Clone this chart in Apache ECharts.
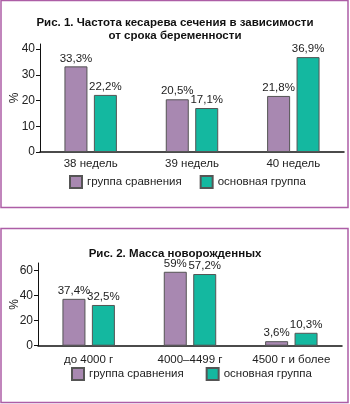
<!DOCTYPE html>
<html>
<head>
<meta charset="utf-8">
<script src="https://cdn.jsdelivr.net/npm/echarts@6/dist/echarts.min.js"></script>
<style>
html,body{margin:0;padding:0;background:#fff;}
#chart{width:350px;height:404px;}
</style>
</head>
<body>
<div id="chart"></div>
<script>
// Chart 1 data
var categories1 = ['38 недель', '39 недель', '40 недель'];
var comparison1 = [33.3, 20.5, 21.8];
var main1 = [22.2, 17.1, 36.9];
var ticks1 = [0, 10, 20, 30, 40];
// Chart 2 data
var categories2 = ['до 4000 г', '4000–4499 г', '4500 г и более'];
var comparison2 = [37.4, 59, 3.6];
var main2 = [32.5, 57.2, 10.3];
var ticks2 = [0, 20, 40, 60];

var seriesNames = ['группа сравнения', 'основная группа'];
var title1 = 'Рис. 1. Частота кесарева сечения в зависимости\nот срока беременности';
var title2 = 'Рис. 2. Масса новорожденных';

var PURPLE = '#a888b1';
var GREEN = '#14b8a0';
var FONT = 'Liberation Sans, Arial, sans-serif';
var TXT = '#222';

function fmt(p) { return String(p.value).replace('.', ',') + '%'; }

function barSeries(name, data, color, idx) {
  return {
    type: 'bar', name: name, data: data,
    xAxisIndex: idx, yAxisIndex: idx,
    barWidth: 23, barGap: '28%',
    itemStyle: { color: color, borderColor: '#555', borderWidth: 1 },
    label: { show: true, position: 'top', distance: 2, formatter: fmt,
      fontFamily: FONT, fontSize: 11.5, color: TXT },
    emphasis: { disabled: true }
  };
}

function yAx(idx, max, ticks, gap) {
  return {
    type: 'value', gridIndex: idx, min: 0, max: max,
    name: '%', nameLocation: 'middle', nameGap: gap, nameMoveOverlap: false,
    nameTextStyle: { fontFamily: FONT, fontSize: 12, color: TXT },
    axisLine: { show: true, lineStyle: { color: '#111', width: 1 } },
    axisTick: { show: true, length: 4, lineStyle: { color: '#111' }, customValues: ticks },
    axisLabel: { fontFamily: FONT, fontSize: 12, color: TXT, margin: 5, customValues: ticks },
    splitLine: { show: false }
  };
}

function xAx(idx, cats, margin) {
  return {
    type: 'category', gridIndex: idx, data: cats,
    axisLine: { show: true, lineStyle: { color: '#111', width: 1.5 } },
    axisTick: { show: false },
    axisLabel: { fontFamily: FONT, fontSize: 11.5, color: TXT, margin: margin, interval: 0 }
  };
}

var chart = echarts.init(document.getElementById('chart'), null, { renderer: 'canvas' });
chart.setOption({
  animation: false,
  graphic: [
    { type: 'rect', shape: { x: 1, y: 0.5, width: 347, height: 207 },
      style: { fill: 'none', stroke: '#ad5ea6', lineWidth: 1.5 } },
    { type: 'rect', shape: { x: 1, y: 228.5, width: 347, height: 174 },
      style: { fill: 'none', stroke: '#ad5ea6', lineWidth: 1.5 } }
  ],
  title: [
    { text: title1, left: 'center', top: 16.5, padding: 0,
      textStyle: { fontFamily: FONT, fontSize: 11.5, fontWeight: 'bold', color: '#111', lineHeight: 13 } },
    { text: title2, left: 'center', top: 247, padding: 0,
      textStyle: { fontFamily: FONT, fontSize: 11.5, fontWeight: 'bold', color: '#111', lineHeight: 13 } }
  ],
  legend: [
    { data: seriesNames, left: 69, top: 175, padding: 0, icon: 'rect',
      itemWidth: 12, itemHeight: 12, itemGap: 18,
      textStyle: { fontFamily: FONT, fontSize: 11.5, color: TXT } },
    { data: seriesNames, left: 71, top: 367, padding: 0, icon: 'rect',
      itemWidth: 12, itemHeight: 12, itemGap: 22,
      textStyle: { fontFamily: FONT, fontSize: 11.5, color: TXT } }
  ],
  grid: [
    { left: 40, right: 6, top: 44, height: 108, containLabel: false, outerBoundsMode: 'none' },
    { left: 38, right: 8, top: 263, height: 82.7, containLabel: false, outerBoundsMode: 'none' }
  ],
  xAxis: [xAx(0, categories1, 6), xAx(1, categories2, 8)],
  yAxis: [yAx(0, 42, ticks1, 19), yAx(1, 66, ticks2, 17)],
  series: [
    barSeries(seriesNames[0], comparison1, PURPLE, 0),
    barSeries(seriesNames[1], main1, GREEN, 0),
    barSeries(seriesNames[0], comparison2, PURPLE, 1),
    barSeries(seriesNames[1], main2, GREEN, 1)
  ]
});
</script>
</body>
</html>
